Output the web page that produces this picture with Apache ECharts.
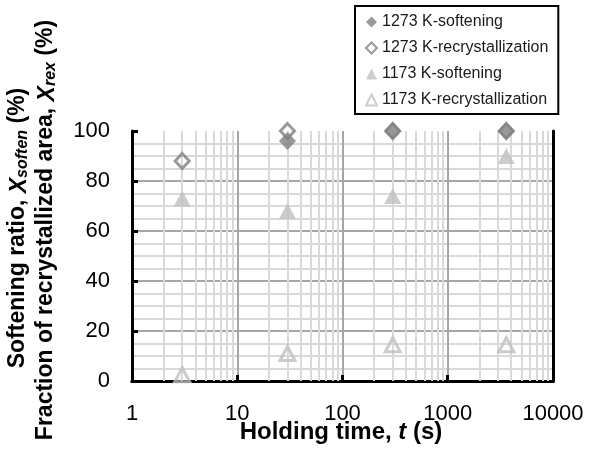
<!DOCTYPE html>
<html>
<head>
<meta charset="utf-8">
<script src="https://cdn.jsdelivr.net/npm/echarts@6/dist/echarts.min.js"></script>
<style>
html,body{margin:0;padding:0;background:#fff;}
#chart{width:590px;height:450px;}
</style>
</head>
<body>
<div id="chart"></div>
<script>
// ---- data ----
var times = [3, 30, 300, 3600];
var soften1273 = [null, 96, 100, 100];
var rex1273 = [88, 100, 100, 100];
var soften1173 = [73, 68, 74, 90];
var rex1173 = [2.5, 11, 14.5, 14.5];
var seriesNames = ['1273 K-softening', '1273 K-recrystallization', '1173 K-softening', '1173 K-recrystallization'];
var xTicks = [1, 10, 100, 1000, 10000];
var xMinorTicks = [2,3,4,5,6,7,8,9,20,30,40,50,60,70,80,90,200,300,400,500,600,700,800,900,2000,3000,4000,5000,6000,7000,8000,9000];

var FONT = '"Liberation Sans", Arial, sans-serif';
function pairs(vals){
  var out = [];
  for (var i = 0; i < times.length; i++) {
    if (vals[i] !== null) out.push([times[i], vals[i]]);
  }
  return out;
}

var titleRich = {
  x: {fontFamily: FONT, fontSize: 23, fontWeight: 'bold', fontStyle: 'italic', fill: '#000', lineHeight: 26, verticalAlign: 'bottom'},
  s: {fontFamily: FONT, fontSize: 16, fontWeight: 'bold', fontStyle: 'italic', fill: '#000', lineHeight: 26, verticalAlign: 'bottom'}
};

var chart = echarts.init(document.getElementById('chart'), null, {renderer: 'canvas'});
var option = {
  animation: false,
  backgroundColor: '#fff',
  grid: {left: 132, right: 37, top: 131, bottom: 69, containLabel: false, outerBoundsMode: 'none'},
  legend: {
    orient: 'vertical',
    left: 355, top: 6,
    data: seriesNames,
    padding: [8, 10, 6, 10],
    itemGap: 10,
    itemWidth: 11, itemHeight: 11,
    borderColor: '#000', borderWidth: 2,
    backgroundColor: '#fff',
    textStyle: {fontFamily: FONT, fontSize: 16, color: '#1a1a1a', lineHeight: 16},
    selectedMode: false
  },
  xAxis: [{
    type: 'log', logBase: 10, min: 1, max: 10000,
    z: 3,
    axisLine: {show: true, lineStyle: {color: '#000', width: 3}},
    axisTick: {show: true, inside: true, length: 6, lineStyle: {color: '#000', width: 3}},
    axisLabel: {fontFamily: FONT, fontSize: 22, color: '#000', margin: 22,
      formatter: function(v){ return xTicks.indexOf(v) >= 0 ? String(v) : ''; }},
    splitLine: {show: true, showMinLine: false, showMaxLine: false, lineStyle: {color: '#a6a6a6', width: 2}}
  }, {
    type: 'log', logBase: 10, min: 1, max: 10000, position: 'top',
    z: 3,
    axisLine: {show: true, lineStyle: {color: '#000', width: 3}},
    axisTick: {show: false}, axisLabel: {show: false}, splitLine: {show: false}
  }],
  yAxis: [{
    type: 'value', min: 0, max: 100, interval: 20,
    z: 3,
    axisLine: {show: true, lineStyle: {color: '#000', width: 3}},
    axisTick: {show: true, inside: true, length: 6, lineStyle: {color: '#000', width: 3}},
    axisLabel: {fontFamily: FONT, fontSize: 22, color: '#000', margin: 22},
    splitLine: {show: true, showMinLine: false, showMaxLine: false, lineStyle: {color: '#a6a6a6', width: 2}},
    minorTick: {show: false, splitNumber: 4},
    minorSplitLine: {show: true, lineStyle: {color: '#d9d9d9', width: 2}}
  }, {
    type: 'value', min: 0, max: 100, interval: 20, position: 'right',
    z: 3,
    axisLine: {show: true, lineStyle: {color: '#000', width: 3}},
    axisTick: {show: false}, axisLabel: {show: false}, splitLine: {show: false}
  }],
  graphic: [{
    type: 'text', x: 341, y: 432, z: 10,
    style: {
      text: 'Holding time, {i|t} (s)',
      fontFamily: FONT, fontSize: 24, fontWeight: 'bold', fill: '#000',
      align: 'center', verticalAlign: 'middle',
      rich: {i: {fontFamily: FONT, fontSize: 24, fontWeight: 'bold', fontStyle: 'italic', fill: '#000'}}
    }
  }, {
    type: 'text', x: 18, y: 228, rotation: Math.PI / 2, z: 10,
    style: {
      text: 'Softening ratio, {x|X}{s|soften} (%)',
      fontFamily: FONT, fontSize: 23, fontWeight: 'bold', fill: '#000',
      align: 'center', verticalAlign: 'middle',
      rich: titleRich
    }
  }, {
    type: 'text', x: 46, y: 230, rotation: Math.PI / 2, z: 10,
    style: {
      text: 'Fraction of recrystallized area, {x|X}{s|rex} (%)',
      fontFamily: FONT, fontSize: 23, fontWeight: 'bold', fill: '#000',
      align: 'center', verticalAlign: 'middle',
      rich: titleRich
    }
  }],
  series: [{
    name: 'minor-grid', type: 'scatter', data: [], z: 1, silent: true,
    markLine: {
      silent: true, symbol: ['none', 'none'], label: {show: false},
      lineStyle: {type: 'solid', color: '#d9d9d9', width: 2},
      emphasis: {disabled: true},
      data: xMinorTicks.map(function(v){ return {xAxis: v}; })
    }
  }, {
    name: seriesNames[0], type: 'scatter', z: 5, symbol: 'diamond', symbolSize: [17, 18],
    itemStyle: {color: '#7f7f7f'},
    data: pairs(soften1273)
  }, {
    name: seriesNames[1], type: 'scatter', z: 6, symbol: 'diamond', symbolSize: [14, 15],
    itemStyle: {color: 'rgba(255,255,255,0)', borderColor: '#7f7f7f', borderWidth: 3},
    data: pairs(rex1273)
  }, {
    name: seriesNames[2], type: 'scatter', z: 5, symbol: 'triangle', symbolSize: [17, 16],
    itemStyle: {color: '#bfbfbf'},
    data: pairs(soften1173)
  }, {
    name: seriesNames[3], type: 'scatter', z: 6, symbol: 'triangle', symbolSize: [15, 14],
    itemStyle: {color: 'rgba(255,255,255,0)', borderColor: '#bfbfbf', borderWidth: 3},
    data: pairs(rex1173)
  }]
};
chart.setOption(option);
</script>
</body>
</html>
